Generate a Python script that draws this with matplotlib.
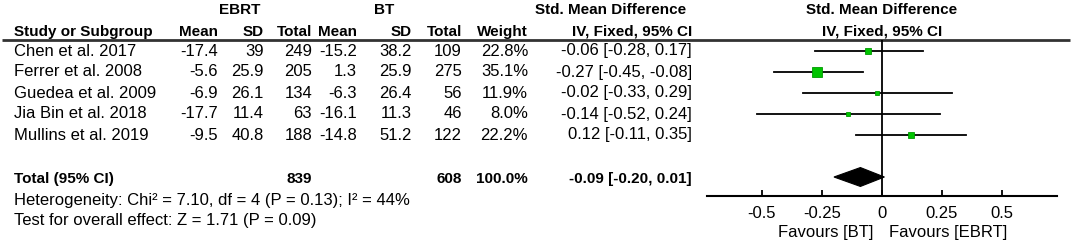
import matplotlib
matplotlib.use("Agg")
import matplotlib.pyplot as plt
from matplotlib.patches import Polygon

plt.rcParams["font.family"] = ["Liberation Sans", "DejaVu Sans"]

studies = ["Chen et al. 2017", "Ferrer et al. 2008", "Guedea et al. 2009",
           "Jia Bin et al. 2018", "Mullins et al. 2019"]
ebrt_mean = [-17.4, -5.6, -6.9, -17.7, -9.5]
ebrt_sd = [39, 25.9, 26.1, 11.4, 40.8]
ebrt_n = [249, 205, 134, 63, 188]
bt_mean = [-15.2, 1.3, -6.3, -16.1, -14.8]
bt_sd = [38.2, 25.9, 26.4, 11.3, 51.2]
bt_n = [109, 275, 56, 46, 122]
weights = [22.8, 35.1, 11.9, 8.0, 22.2]
smd = [-0.06, -0.27, -0.02, -0.14, 0.12]
ci_low = [-0.28, -0.45, -0.33, -0.52, -0.11]
ci_high = [0.17, -0.08, 0.29, 0.24, 0.35]

pooled = -0.09
pooled_low = -0.20
pooled_high = 0.01
heterogeneity = "Heterogeneity: Chi\u00b2 = 7.10, df = 4 (P = 0.13); I\u00b2 = 44%"
overall_effect = "Test for overall effect: Z = 1.71 (P = 0.09)"
xticks = [-0.5, -0.25, 0, 0.25, 0.5]
xtick_labels = ["-0.5", "-0.25", "0", "0.25", "0.5"]

W, H = 1072, 242
FS = 12
FS_BOLD = 11
GREEN = "#00c400"

fig = plt.figure(figsize=(W / 100, H / 100), dpi=100)

# text layer in pixel coordinates
ax_t = fig.add_axes([0, 0, 1, 1])
ax_t.set_xlim(0, W)
ax_t.set_ylim(H, 0)
ax_t.axis("off")

row_y0 = 51
row_step = 21


def row_y(i):
    return row_y0 + row_step * i


def put(x, y, s, ha="right", bold=False):
    ax_t.text(x, y, s, ha=ha, va="center", fontsize=FS_BOLD if bold else FS,
              fontweight="bold" if bold else "normal", color="black")


# headers
put(240, 10, "EBRT", ha="center", bold=True)
put(384, 10, "BT", ha="center", bold=True)
put(686, 10, "Std. Mean Difference", bold=True)
put(882, 10, "Std. Mean Difference", ha="center", bold=True)

col_x = [218, 264, 312, 357, 412, 462, 528]
head_labels = ["Mean", "SD", "Total", "Mean", "SD", "Total", "Weight"]
put(14, 32, "Study or Subgroup", ha="left", bold=True)
for x, lab in zip(col_x, head_labels):
    put(x, 32, lab, bold=True)
put(692, 32, "IV, Fixed, 95% CI", bold=True)
put(882, 32, "IV, Fixed, 95% CI", ha="center", bold=True)

ax_t.plot([2, 1070], [40, 40], color="#333333", lw=2, solid_capstyle="butt")

for i, name in enumerate(studies):
    y = row_y(i)
    put(14, y, name, ha="left")
    vals = [f"{ebrt_mean[i]:g}", f"{ebrt_sd[i]:g}", f"{ebrt_n[i]}",
            f"{bt_mean[i]:g}", f"{bt_sd[i]:g}", f"{bt_n[i]}",
            f"{weights[i]:.1f}%"]
    for x, v in zip(col_x, vals):
        put(x, y, v)
    put(692, y, f"{smd[i]:.2f} [{ci_low[i]:.2f}, {ci_high[i]:.2f}]")

ty = row_y(6) + 2
put(14, ty, "Total (95% CI)", ha="left", bold=True)
put(col_x[2], ty, f"{sum(ebrt_n)}", bold=True)
put(col_x[5], ty, f"{sum(bt_n)}", bold=True)
put(col_x[6], ty, f"{sum(weights):.1f}%", bold=True)
put(692, ty, f"{pooled:.2f} [{pooled_low:.2f}, {pooled_high:.2f}]", bold=True)
put(14, ty + 21, heterogeneity, ha="left")
put(14, ty + 42, overall_effect, ha="left")

put(873, 233, "Favours [BT]")
put(889, 233, "Favours [EBRT]", ha="left")

# forest panel
px_left, px_right = 707, 1057
px_top, px_bottom = 40, 196
ax_f = fig.add_axes([px_left / W, (H - px_bottom) / H,
                     (px_right - px_left) / W, (px_bottom - px_top) / H])
half = 0.729
ax_f.set_xlim(-half, half)
ax_f.set_ylim((px_bottom - row_y0) / row_step, (px_top - row_y0) / row_step)
ax_f.patch.set_visible(False)
for side in ["top", "left", "right"]:
    ax_f.spines[side].set_visible(False)
ax_f.spines["bottom"].set_linewidth(1.5)
ax_f.set_yticks([])
ax_f.set_xticks(xticks)
ax_f.set_xticklabels(xtick_labels, fontsize=FS)
ax_f.tick_params(axis="x", direction="in", length=4.5, width=1.3, pad=7)

ax_f.axvline(0, color="black", lw=1.3)

for i in range(len(studies)):
    ax_f.plot([ci_low[i], ci_high[i]], [i, i], color="black", lw=1.3)
    side_px = max(3.5, 0.29 * weights[i])
    ax_f.plot(smd[i], i, marker="s", color=GREEN, markeredgecolor="#009a00",
              markeredgewidth=0.6, markersize=side_px * 0.72, linestyle="none")

dh = 0.45
diamond = Polygon([(pooled_low, 6), (pooled, 6 - dh), (pooled_high, 6), (pooled, 6 + dh)],
                  closed=True, facecolor="black", edgecolor="black", lw=0.8)
ax_f.add_patch(diamond)

fig.savefig("out.png", dpi=100)
